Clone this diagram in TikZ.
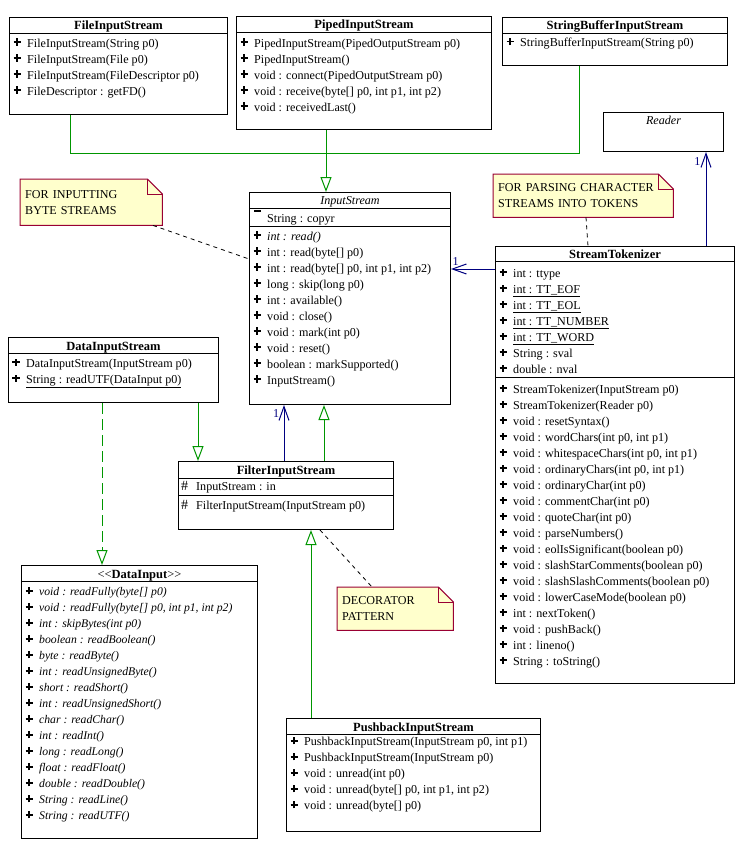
\documentclass[tikz,border=0pt]{standalone}
\usepackage{fontspec}
\setmainfont{Liberation Serif}
\usepackage{tikz}
\usetikzlibrary{arrows.meta,backgrounds}

\definecolor{gengreen}{RGB}{0,150,0}
\definecolor{assocblue}{RGB}{0,0,128}
\definecolor{notefill}{RGB}{255,255,204}
\definecolor{noteline}{RGB}{153,0,51}

\newcommand{\umlpub}{\makebox[15pt][l]{\hspace{1.3pt}\rule[4.2pt]{7.4pt}{1.8pt}\hspace{-4.6pt}\rule[1.4pt]{1.8pt}{7.4pt}}}
\newcommand{\umlprot}{\makebox[15pt][l]{{\fontsize{14}{16}\selectfont\#}}}
\newcommand{\umlpriv}{\makebox[15pt][l]{\hspace{2pt}\rule[10pt]{7pt}{1.6pt}}}

\begin{document}
\begin{tikzpicture}[x=1pt, y=-1pt, font=\fontsize{12.1}{16}\selectfont,
    box/.style={draw, line width=1pt, anchor=north west, inner sep=0pt},
    title/.style={anchor=base, inner sep=0pt, font=\fontsize{12.5}{16}\selectfont\bfseries},
    abstitle/.style={anchor=base, inner sep=0pt, font=\fontsize{12.1}{16}\selectfont\itshape},
    row/.style={anchor=base west, inner sep=0pt},
    note/.style={anchor=north west, inner xsep=5pt, inner ysep=0pt, align=left},
    notebg/.style={draw=noteline, fill=notefill, line width=1pt},
    gen/.style={gengreen, line width=1pt, -{Triangle[open, length=15pt, width=11pt]}},
    genline/.style={gengreen, line width=1pt},
    real/.style={gen, dash pattern=on 11pt off 5pt},
    assoc/.style={assocblue, line width=1pt, -{Straight Barb[length=14pt, width=10pt]}},
    mult/.style={inner sep=0pt, pos=1},
    anchorline/.style={line width=0.8pt, dash pattern=on 4pt off 4pt}]

    \useasboundingbox (0,0) rectangle (742,855);

    % Class boxes
    \node [box, minimum width=218pt, minimum height=97pt]   (fis)    at (9,17)    {};
    \node [box, minimum width=255pt, minimum height=113pt]  (pis)    at (236,16)  {};
    \node [box, minimum width=225pt, minimum height=48pt]   (sbis)   at (502,17)  {};
    \node [box, minimum width=120pt, minimum height=39pt]   (reader) at (603,112) {};
    \node [box, minimum width=201pt, minimum height=212pt]  (is)     at (249,192) {};
    \node [box, minimum width=239pt, minimum height=437pt]  (st)     at (495,246) {};
    \node [box, minimum width=210pt, minimum height=65pt]   (dis)    at (8,337)   {};
    \node [box, minimum width=215pt, minimum height=68pt]   (fltr)   at (178,461) {};
    \node [box, minimum width=236pt, minimum height=273pt]  (di)     at (21,565)  {};
    \node [box, minimum width=254pt, minimum height=113pt]  (pbis)   at (286,718) {};

    % Compartment lines
    \foreach \b/\y in {fis/33, pis/32, sbis/33, is/208, is/226, st/261, st/377,
                       dis/353, fltr/478, fltr/495, di/581, pbis/734}
        \draw [line width=1pt] (\b.west |- 0,\y) -- (\b.east |- 0,\y);

    % Titles
    \node [title]    (fis-t)    at (fis.north |- 0,29.5)   {FileInputStream};
    \node [title]    (pis-t)    at (pis.north |- 0,28.5)   {PipedInputStream};
    \node [title]    (sbis-t)   at (sbis.north |- 0,29.5)  {StringBufferInputStream};
    \node [abstitle] (reader-t) at (reader.north |- 0,124) {Reader};
    \node [abstitle] (is-t)     at (is.north |- 0,204.5)   {InputStream};
    \node [title]    (st-t)     at (st.north |- 0,258.5)   {StreamTokenizer};
    \node [title]    (dis-t)    at (dis.north |- 0,350)    {DataInputStream};
    \node [title]    (fltr-t)   at (fltr.north |- 0,474.5) {FilterInputStream};
    \node [title]    (di-t)     at (di.north |- 0,578.5)   {{\mdseries<\kern0pt<}DataInput{\mdseries>\kern0pt>}};
    \node [title]    (pbis-t)   at (pbis.north |- 0,731.5) {PushbackInputStream};

    % Members
    \foreach \m [count=\i from 0] in {{FileInputStream(String p0)}, {FileInputStream(File p0)},
            {FileInputStream(FileDescriptor p0)}, {FileDescriptor : getFD()}}
        \node [row] (fis-\i) at (12, 47+16*\i) {\umlpub\m};
    \foreach \m [count=\i from 0] in {{PipedInputStream(PipedOutputStream p0)}, {PipedInputStream()},
            {void : connect(PipedOutputStream p0)}, {void : receive(byte[] p0, int p1, int p2)},
            {void : receivedLast()}}
        \node [row] (pis-\i) at (239, 47+16*\i) {\umlpub\m};
    \node [row] (sbis-0) at (505,46.5) {\umlpub StringBufferInputStream(String p0)};

    \node [row] (is-a0) at (252,222) {\umlpriv\underline{String : copyr}};
    \foreach \m [count=\i from 0] in {{\textit{int : read()}}, {int : read(byte[] p0)},
            {int : read(byte[] p0, int p1, int p2)}, {long : skip(long p0)}, {int : available()},
            {void : close()}, {void : mark(int p0)}, {void : reset()},
            {boolean : markSupported()}, {InputStream()}}
        \node [row] (is-\i) at (252, 240+16*\i) {\umlpub\m};

    \foreach \m [count=\i from 0] in {{int : ttype}, {\underline{int : TT\_EOF}},
            {\underline{int : TT\_EOL}}, {\underline{int : TT\_NUMBER}}, {\underline{int : TT\_WORD}},
            {String : sval}, {double : nval}}
        \node [row] (st-a\i) at (498, 277.3+16*\i) {\umlpub\m};
    \foreach \m [count=\i from 0] in {{StreamTokenizer(InputStream p0)}, {StreamTokenizer(Reader p0)},
            {void : resetSyntax()}, {void : wordChars(int p0, int p1)},
            {void : whitespaceChars(int p0, int p1)}, {void : ordinaryChars(int p0, int p1)},
            {void : ordinaryChar(int p0)}, {void : commentChar(int p0)}, {void : quoteChar(int p0)},
            {void : parseNumbers()}, {void : eolIsSignificant(boolean p0)},
            {void : slashStarComments(boolean p0)}, {void : slashSlashComments(boolean p0)},
            {void : lowerCaseMode(boolean p0)}, {int : nextToken()}, {void : pushBack()},
            {int : lineno()}, {String : toString()}}
        \node [row] (st-\i) at (498, 393.3+16*\i) {\umlpub\m};

    \node [row] (dis-0) at (11,367.3) {\umlpub DataInputStream(InputStream p0)};
    \node [row] (dis-1) at (11,383.3) {\umlpub\underline{String : readUTF(DataInput p0)}};

    \node [row] (fltr-a0) at (181,490.7) {\umlprot InputStream : in};
    \node [row] (fltr-0)  at (181,509)   {\umlprot FilterInputStream(InputStream p0)};

    \foreach \m [count=\i from 0] in {{void : readFully(byte[] p0)},
            {void : readFully(byte[] p0, int p1, int p2)}, {int : skipBytes(int p0)},
            {boolean : readBoolean()}, {byte : readByte()}, {int : readUnsignedByte()},
            {short : readShort()}, {int : readUnsignedShort()}, {char : readChar()},
            {int : readInt()}, {long : readLong()}, {float : readFloat()},
            {double : readDouble()}, {String : readLine()}, {String : readUTF()}}
        \node [row] (di-\i) at (24, 595.7+16*\i) {\umlpub{\fontsize{11.7}{16}\selectfont\itshape\m}};

    \foreach \m [count=\i from 0] in {{PushbackInputStream(InputStream p0, int p1)},
            {PushbackInputStream(InputStream p0)}, {void : unread(int p0)},
            {void : unread(byte[] p0, int p1, int p2)}, {void : unread(byte[] p0)}}
        \node [row] (pbis-\i) at (289, 745.7+16*\i) {\umlpub\m};

    % Notes
    \node [note, minimum width=142pt, minimum height=46pt, text width=132pt] (bytenote)  at (20,179)  {FOR INPUTTING\\BYTE STREAMS};
    \node [note, minimum width=180pt, minimum height=43pt, text width=170pt] (tokennote) at (493,174) {FOR PARSING CHARACTER\\STREAMS INTO TOKENS};
    \node [note, minimum width=116pt, minimum height=43pt, text width=106pt] (decnote)   at (337,587) {DECORATOR\\PATTERN};
    \begin{pgfonlayer}{background}
        \foreach \n in {bytenote, tokennote, decnote} {
            \draw [notebg] (\n.north west) -- ([xshift=-15pt]\n.north east) -- ([yshift=-15pt]\n.north east)
                -- (\n.south east) -- (\n.south west) -- cycle;
            \draw [notebg, fill=none] ([xshift=-15pt]\n.north east) |- ([yshift=-15pt]\n.north east);
        }
    \end{pgfonlayer}

    % Generalizations
    \coordinate (gj) at (326,153);
    \draw [genline] (70,0 |- fis.south) |- (gj);
    \draw [genline] (579,0 |- sbis.south) |- (gj);
    \draw [gen]  (326,0 |- pis.south)  -- (326,0 |- is.north);
    \draw [gen]  (324,0 |- fltr.north) -- (324,0 |- is.south);
    \draw [gen]  (198,0 |- dis.south)  -- (198,0 |- fltr.north);
    \draw [gen]  (311,0 |- pbis.north) -- (311,0 |- fltr.south);
    \draw [real] (102,0 |- dis.south)  -- (102,0 |- di.north);

    % Associations
    \draw [assoc] (st.west |- 0,269)  -- (is.east |- 0,269)
        node [mult, anchor=base west, xshift=1pt, yshift=4pt] (st-is-m) {1};
    \draw [assoc] (706,0 |- st.north) -- (706,0 |- reader.south)
        node [mult, anchor=base east, xshift=-5pt, yshift=-13pt] (st-reader-m) {1};
    \draw [assoc] (284,0 |- fltr.north) -- (284,0 |- is.south)
        node [mult, anchor=base east, xshift=-4.4pt, yshift=-12.7pt] (fltr-is-m) {1};

    % Note links
    \draw [anchorline] (153,0 |- bytenote.south) -- (is.west |- 0,259);
    \draw [anchorline] (586,0 |- tokennote.south) -- (588,0 |- st.north);
    \draw [anchorline] (320,0 |- fltr.south) -- (372,0 |- decnote.north);

\end{tikzpicture}
\end{document}
